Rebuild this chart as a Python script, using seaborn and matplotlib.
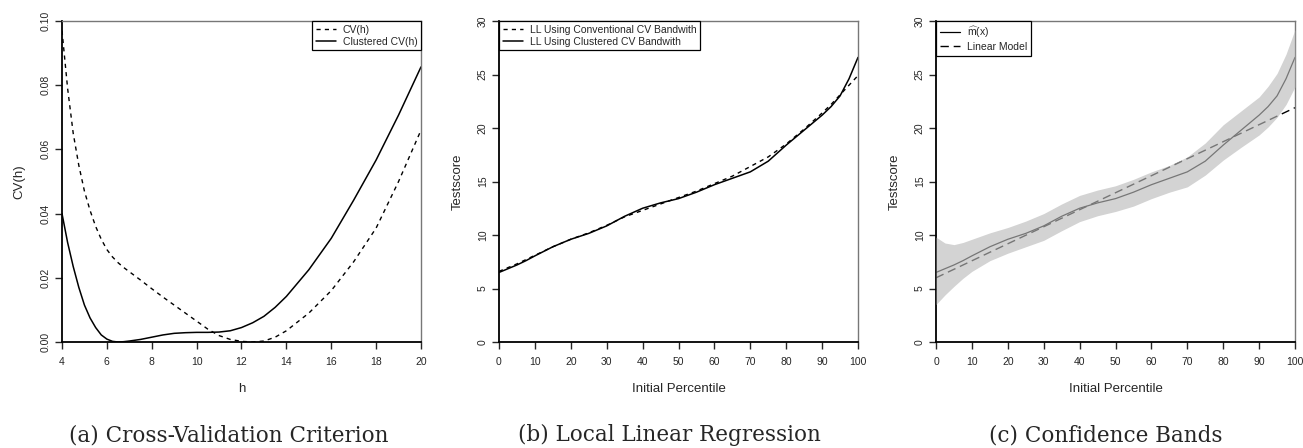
import numpy as np
import pandas as pd
import matplotlib
matplotlib.use("Agg")
import matplotlib.pyplot as plt
import seaborn as sns

# ---- data ----
h = [4, 4.25, 4.5, 4.75, 5, 5.25, 5.5, 5.75, 6, 6.25, 6.5, 6.75, 7, 7.5, 8, 8.5, 9, 9.5,
     10, 10.5, 11, 11.5, 12, 12.5, 13, 13.5, 14, 15, 16, 17, 18, 19, 20]
cv_conv = [0.097, 0.079, 0.065, 0.055, 0.047, 0.041, 0.036, 0.032, 0.0288, 0.0265,
           0.0247, 0.0232, 0.0219, 0.0193, 0.0166, 0.0140, 0.0115, 0.009, 0.0065, 0.004,
           0.002, 0.0008, 0.0002, 0.0, 0.0003, 0.0015, 0.0035, 0.009, 0.016, 0.025,
           0.0355, 0.05, 0.066]
cv_clust = [0.040, 0.031, 0.0235, 0.017, 0.0115, 0.0075, 0.0045, 0.0022, 0.0009, 0.0002,
            0.0, 0.0001, 0.0003, 0.0008, 0.0015, 0.0022, 0.0027, 0.0029, 0.003, 0.003,
            0.0031, 0.0035, 0.0045, 0.006, 0.008, 0.0108, 0.0142, 0.0225, 0.0323, 0.0442,
            0.0567, 0.0707, 0.0857]

pct = [0, 2.5, 5, 7.5, 10, 15, 20, 25, 30, 35, 40, 45, 50, 55, 60, 65, 70, 75, 80,
       85, 90, 92.5, 95, 97.5, 100]
ll_clust = [6.5, 6.85, 7.2, 7.6, 8.05, 8.9, 9.6, 10.15, 10.85, 11.75, 12.5, 13.0, 13.4,
            14.0, 14.7, 15.3, 15.9, 16.9, 18.4, 19.8, 21.2, 22.0, 23.0, 24.6, 26.6]
ll_conv = [6.6, 6.95, 7.3, 7.7, 8.1, 8.9, 9.6, 10.2, 10.9, 11.7, 12.3, 12.9, 13.5,
           14.1, 14.8, 15.5, 16.4, 17.3, 18.5, 19.9, 21.4, 22.2, 23.1, 24.0, 24.9]
band_hi = [9.8, 9.25, 9.1, 9.3, 9.6, 10.2, 10.7, 11.3, 12.0, 12.9, 13.7, 14.2, 14.6,
           15.2, 15.9, 16.5, 17.3, 18.6, 20.3, 21.6, 22.9, 23.9, 25.1, 26.9, 29.2]
band_lo = [3.5, 4.4, 5.2, 5.95, 6.6, 7.6, 8.3, 8.9, 9.5, 10.4, 11.25, 11.8, 12.2,
           12.7, 13.4, 14.0, 14.5, 15.6, 17.0, 18.2, 19.35, 20.1, 21.0, 22.2, 23.85]
lin_x = [0, 100]
lin_y = [6.0, 21.9]

captions = ["(a) Cross-Validation Criterion", "(b) Local Linear Regression",
            "(c) Confidence Bands"]

sns.set_style("ticks")
plt.rcParams["font.family"] = ["Liberation Sans", "DejaVu Sans"]
plt.rcParams["mathtext.fontset"] = "custom"
plt.rcParams["mathtext.rm"] = "Liberation Sans"

W, H = 1303, 448
fig = plt.figure(figsize=(W / 100, H / 100), dpi=100)

def add_ax(left, right, top=21, bottom=342):
    return fig.add_axes([left / W, 1 - bottom / H, (right - left) / W, (bottom - top) / H])

def style(ax):
    for s in ["left", "bottom"]:
        ax.spines[s].set_color("black")
        ax.spines[s].set_linewidth(1.3)
    for s in ["top", "right"]:
        ax.spines[s].set_color("#777777")
        ax.spines[s].set_linewidth(1.0)
    ax.tick_params(direction="out", length=5, width=1, labelsize=7.5)
    ax.tick_params(axis="x", pad=6)
    ax.tick_params(axis="y", pad=3)
    for lab in ax.get_yticklabels():
        lab.set_rotation(90)
        lab.set_va("center")

def legend(ax, loc):
    leg = ax.legend(loc=loc, borderaxespad=0, fancybox=False, framealpha=1,
                    edgecolor="black", fontsize=7.5, handlelength=2.0,
                    borderpad=0.35, labelspacing=0.2, handletextpad=0.6)
    leg.get_frame().set_linewidth(0.9)
    return leg

# (a)
ax1 = add_ax(62, 421)
sns.lineplot(x=h, y=cv_conv, ax=ax1, color="black", lw=1, label="CV(h)")
ax1.lines[-1].set_linestyle((0, (3, 3)))
sns.lineplot(x=h, y=cv_clust, ax=ax1, color="black", lw=1.1, label="Clustered CV(h)")
ax1.set_xlim(4, 20)
ax1.set_ylim(0, 0.10)
ax1.set_xticks(np.arange(4, 21, 2))
ax1.set_yticks(np.arange(0, 0.101, 0.02))
ax1.set_yticklabels([f"{v:.2f}" for v in np.arange(0, 0.101, 0.02)])
ax1.set_xlabel("h", fontsize=9.5, labelpad=11)
ax1.set_ylabel("CV(h)", fontsize=9.5, labelpad=11)
leg = legend(ax1, "upper right")
leg.get_lines()[0].set_linestyle((0, (3, 3)))
style(ax1)

# (b)
ax2 = add_ax(499, 858)
sns.lineplot(x=pct, y=ll_conv, ax=ax2, color="black", lw=1,
             label="LL Using Conventional CV Bandwith")
ax2.lines[-1].set_linestyle((0, (3, 3)))
sns.lineplot(x=pct, y=ll_clust, ax=ax2, color="black", lw=1.1,
             label="LL Using Clustered CV Bandwith")
ax2.set_xlim(0, 100)
ax2.set_ylim(0, 30)
ax2.set_xticks(range(0, 101, 10))
ax2.set_yticks(range(0, 31, 5))
ax2.set_xlabel("Initial Percentile", fontsize=9.5, labelpad=11)
ax2.set_ylabel("Testscore", fontsize=9.5, labelpad=10)
leg = legend(ax2, "upper left")
leg.get_lines()[0].set_linestyle((0, (3, 3)))
style(ax2)

# (c)
ax3 = add_ax(936, 1295)
sns.lineplot(x=pct, y=ll_clust, ax=ax3, color="black", lw=0.9,
             label=r"$\widehat{\mathrm{m}}$(x)")
sns.lineplot(x=lin_x, y=lin_y, ax=ax3, color="black", lw=1, label="Linear Model")
ax3.lines[-1].set_linestyle((0, (6, 3.5)))
ax3.fill_between(pct, band_lo, band_hi, color=(0.73, 0.73, 0.73), alpha=0.64,
                 lw=0, zorder=3)
ax3.set_xlim(0, 100)
ax3.set_ylim(0, 30)
ax3.set_xticks(range(0, 101, 10))
ax3.set_yticks(range(0, 31, 5))
ax3.set_xlabel("Initial Percentile", fontsize=9.5, labelpad=11)
ax3.set_ylabel("Testscore", fontsize=9.5, labelpad=10)
leg = legend(ax3, "upper left")
leg.get_lines()[1].set_linestyle((0, (6, 3.5)))
leg.set_zorder(5)
style(ax3)

for cx, cap in zip([229, 669, 1106], captions):
    fig.text(cx / W, 1 - 435 / H, cap, ha="center", va="center",
             family=["DejaVu Serif"], fontsize=15.5)

fig.savefig("out.png", dpi=100)
